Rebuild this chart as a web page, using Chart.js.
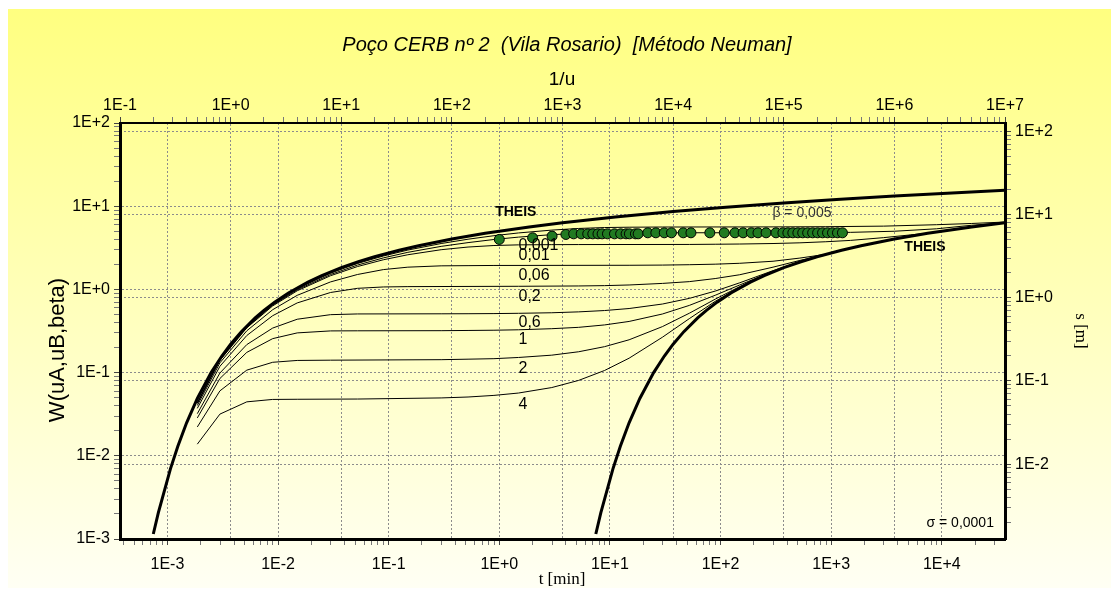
<!DOCTYPE html>
<html>
<head>
<meta charset="utf-8">
<script src="https://cdn.jsdelivr.net/npm/chart.js@4.4.0/dist/chart.umd.min.js"></script>
<style>
  html, body { margin: 0; padding: 0; background: #fff; }
</style>
</head>
<body>
<canvas id="neumanChart" width="1120" height="592"></canvas>
<script>
// ---- axis ranges ----
const invUMin = 0.1, invUMax = 1e7;          // top axis 1/u
const wMin = 1e-3, wMax = 1e2;               // left axis W(uA,uB,beta)
const tMin = 3.727e-4, tMax = 3.727e4;       // bottom axis t [min]
const sMin = 1.259e-3, sMax = 125.9;         // right axis s [m]

// ---- tick labels ----
const invULabels = ['1E-1', '1E+0', '1E+1', '1E+2', '1E+3', '1E+4', '1E+5', '1E+6', '1E+7'];
const wLabels = ['1E-3', '1E-2', '1E-1', '1E+0', '1E+1', '1E+2'];
const tLabels = ['1E-3', '1E-2', '1E-1', '1E+0', '1E+1', '1E+2', '1E+3', '1E+4'];
const sLabels = ['1E-2', '1E-1', '1E+0', '1E+1', '1E+2'];

// ---- Theis curve, type A (x = 1/uA) ----
const theisAX = [0.2, 0.2222, 0.2857, 0.3333, 0.4, 0.5, 0.6667, 0.8333, 1, 1.25, 1.667, 2, 2.5, 3.333, 5, 6.667, 10, 14.29, 20, 33.33, 50, 100, 200, 500, 1000, 3000, 1e4, 3e4, 1e5, 3e5, 1e6, 3e6, 1e7];
const theisAW = [1.148e-3, 2.073e-3, 6.97e-3, 1.305e-2, 2.491e-2, 4.89e-2, 0.1, 0.1584, 0.2194, 0.3106, 0.4544, 0.5598, 0.7024, 0.9057, 1.2227, 1.4645, 1.8229, 2.1508, 2.4679, 2.9591, 3.3547, 4.0379, 4.7261, 5.6394, 6.3315, 7.43, 8.633, 9.733, 10.936, 12.036, 13.238, 14.338, 15.541];

// ---- Theis curve, type B (plotted on 1/uA, sigma = 0,0001) ----
const theisBX = [2000, 2222, 2857, 3333, 4000, 5000, 6667, 8333, 1e4, 12500, 16670, 2e4, 25000, 33330, 5e4, 66670, 1e5, 142900, 2e5, 333300, 5e5, 1e6, 2e6, 5e6, 1e7];
const theisBW = [1.148e-3, 2.073e-3, 6.97e-3, 1.305e-2, 2.491e-2, 4.89e-2, 0.1, 0.1584, 0.2194, 0.3106, 0.4544, 0.5598, 0.7024, 0.9057, 1.2227, 1.4645, 1.8229, 2.1508, 2.4679, 2.9591, 3.3547, 4.0379, 4.7261, 5.6394, 6.3315];

// ---- Neuman curves, one per beta ----
const beta0001X = [0.5, 0.8, 1.4, 2.4, 4, 8, 14, 24, 40, 80, 140, 240, 400, 800, 1400, 2400, 4000, 8000, 8e4, 2.4e5, 8e5, 2.4e6, 5e6, 1e7];
const beta0001W = [0.0438, 0.145, 0.358, 0.662, 1.02, 1.57, 2.05, 2.52, 2.97, 3.56, 4.01, 4.42, 4.77, 5.16, 5.4, 5.54, 5.59, 5.62, 5.64, 5.67, 5.76, 5.99, 6.2, 6.45];
const beta0005X = [0.5, 0.8, 1.4, 2.4, 4, 8, 14, 24, 40, 80, 140, 240, 400, 800, 1400, 2400, 4000, 1e5, 4e5, 1e6, 2.4e6, 5e6, 1e7];
const beta0005W = [0.0431, 0.142, 0.351, 0.647, 0.99, 1.51, 1.96, 2.39, 2.79, 3.29, 3.65, 3.98, 4.25, 4.55, 4.7, 4.77, 4.79, 4.8, 4.85, 5.0, 5.35, 5.9, 6.35];
const beta001X = [0.5, 0.8, 1.4, 2.4, 4, 8, 14, 24, 40, 80, 140, 240, 400, 800, 1400, 14000, 24000, 40000, 80000, 140000, 240000, 400000, 800000, 1400000, 2000000];
const beta001W = [0.0425, 0.14, 0.345, 0.633, 0.963, 1.46, 1.88, 2.27, 2.61, 3.0, 3.23, 3.37, 3.43, 3.45, 3.46, 3.47, 3.49, 3.51, 3.56, 3.63, 3.74, 3.88, 4.19, 4.52, 4.73];
const beta006X = [0.5, 0.8, 1.4, 2.4, 4, 8, 14, 24, 40, 80, 140, 240, 4000, 8000, 14000, 24000, 40000, 80000, 140000, 240000, 300000];
const beta006W = [0.0403, 0.131, 0.318, 0.57, 0.849, 1.23, 1.51, 1.73, 1.85, 1.92, 1.93, 1.94, 1.95, 1.96, 1.98, 2.01, 2.06, 2.18, 2.38, 2.64, 2.85];
const beta02X = [0.5, 0.8, 1.4, 2.4, 4, 8, 14, 24, 40, 400, 1400, 2400, 4000, 8000, 14000, 24000, 40000, 80000, 140000, 200000];
const beta02W = [0.0372, 0.119, 0.279, 0.483, 0.688, 0.918, 1.03, 1.07, 1.08, 1.09, 1.1, 1.11, 1.13, 1.18, 1.24, 1.35, 1.5, 1.85, 2.23, 2.47];
const beta06X = [0.5, 0.8, 1.4, 2.4, 4, 8, 14, 80, 140, 240, 400, 800, 1400, 2400, 4000, 8000, 14000, 24000, 40000, 80000, 140000];
const beta06W = [0.0321, 0.0988, 0.217, 0.343, 0.438, 0.497, 0.507, 0.509, 0.51, 0.512, 0.516, 0.524, 0.537, 0.557, 0.589, 0.667, 0.78, 0.954, 1.2, 1.68, 2.15];
const beta1X = [0.5, 0.8, 1.4, 2.4, 4, 8, 14, 80, 140, 240, 400, 800, 1400, 2400, 4000, 8000, 14000, 24000, 40000, 80000];
const beta1W = [0.0285, 0.0849, 0.175, 0.256, 0.3, 0.317, 0.318, 0.319, 0.321, 0.323, 0.327, 0.337, 0.35, 0.374, 0.412, 0.506, 0.642, 0.85, 1.13, 1.65];
const beta2X = [0.5, 0.8, 1.4, 2.4, 4, 8, 80, 140, 240, 400, 800, 1400, 2400, 4000, 8000, 14000, 24000, 40000, 80000];
const beta2W = [0.0222, 0.0603, 0.107, 0.133, 0.14, 0.141, 0.143, 0.145, 0.147, 0.152, 0.162, 0.178, 0.205, 0.248, 0.357, 0.517, 0.763, 1.08, 1.63];
const beta4X = [0.5, 0.8, 1.4, 2.4, 4, 14, 80, 140, 240, 400, 800, 1400, 2400, 4000, 8000, 14000, 24000, 40000, 80000];
const beta4W = [0.0138, 0.0317, 0.0445, 0.0476, 0.0478, 0.0481, 0.0496, 0.0509, 0.0532, 0.0568, 0.0661, 0.0806, 0.106, 0.149, 0.266, 0.445, 0.718, 1.06, 1.63];

// ---- field data: time [min] and drawdown [m] ----
const obsTime = [1, 2, 3, 4, 4.7, 5.5, 6.3, 7, 7.8, 8.5, 9.5, 11, 12.5, 14, 15, 17, 18, 22, 26, 31, 36, 46, 54, 80, 108, 135, 160, 190, 218, 258, 317, 366, 406, 450, 500, 553, 613, 680, 754, 836, 927, 1028, 1140, 1264];
const obsDrawdown = [5.02, 5.25, 5.5, 5.76, 5.86, 5.86, 5.86, 5.86, 5.86, 5.86, 5.86, 5.86, 5.86, 5.86, 5.86, 5.86, 5.86, 6.03, 6.03, 6.03, 6.03, 6.03, 6.03, 6.03, 6.03, 6.03, 6.03, 6.03, 6.03, 6.03, 6.03, 6.03, 6.03, 6.03, 6.03, 6.03, 6.03, 6.03, 6.03, 6.03, 6.03, 6.03, 6.03, 6.03];

// ---- curve labels (position in 1/u and W) ----
const betaLabels = ['0,001', '0,01', '0,06', '0,2', '0,6', '1', '2', '4'];
const betaLabelW = [3.4, 2.52, 1.45, 0.81, 0.397, 0.25, 0.111, 0.041];

const SANS = '"Liberation Sans", Arial, Helvetica, sans-serif';
const SERIF = '"Liberation Serif", "Times New Roman", serif';

function pairs(xs, ys) {
  return xs.map((x, i) => ({ x: x, y: ys[i] }));
}
function isDecade(v) {
  const e = Math.log10(v);
  return Math.abs(e - Math.round(e)) < 1e-6;
}
function logTickValues(min, max) {
  const out = [];
  for (let e = Math.floor(Math.log10(min)); e <= Math.ceil(Math.log10(max)); e++) {
    for (let k = 1; k < 10; k++) {
      const v = k * Math.pow(10, e);
      if (v >= min * 0.9999 && v <= max * 1.0001) out.push(v);
    }
  }
  return out;
}
function labelFor(labels) {
  return function (value) {
    const hit = labels.find(l => Math.abs(Math.log10(Number(l)) - Math.log10(value)) < 1e-6);
    return hit || '';
  };
}

function logAxis(position, min, max, labels, size, tickPad) {
  return {
    type: 'logarithmic',
    position: position,
    min: min,
    max: max,
    afterBuildTicks: scale => {
      scale.ticks = logTickValues(min, max).map(v => ({ value: v }));
    },
    afterFit: scale => {
      if (position === 'top' || position === 'bottom') scale.height = size;
      else scale.width = size;
    },
    ticks: {
      autoSkip: false,
      maxRotation: 0,
      minRotation: 0,
      padding: tickPad,
      color: '#000',
      font: { family: SANS, size: 16 },
      callback: labelFor(labels)
    },
    grid: {
      drawOnChartArea: true,
      drawTicks: true,
      tickLength: 6,
      lineWidth: 1,
      color: ctx => (ctx.tick && isDecade(ctx.tick.value)) ? '#8c8c8c' : 'rgba(0,0,0,0)',
      tickColor: ctx => (ctx.tick && isDecade(ctx.tick.value)) ? '#444' : '#777',
      tickWidth: 1
    },
    border: {
      display: true,
      color: '#000',
      width: position === 'top' ? 2 : 3,
      dash: [2, 2]
    }
  };
}

const curve = (label, xs, ys, width) => ({
  label: label,
  data: pairs(xs, ys),
  showLine: true,
  pointRadius: 0,
  borderColor: '#000',
  backgroundColor: '#000',
  borderWidth: width,
  xAxisID: 'x2',
  yAxisID: 'y',
  clip: 0
});

// backgrounds, annotations and axis titles
const paperPlugin = {
  id: 'paper',
  beforeDraw(chart) {
    const { ctx, width, height } = chart;
    ctx.save();
    ctx.fillStyle = '#ffffff';
    ctx.fillRect(0, 0, width, height);
    const g = ctx.createLinearGradient(0, 9, 0, 588);
    g.addColorStop(0, '#ffff80');
    g.addColorStop(1, '#fffff4');
    ctx.fillStyle = g;
    ctx.fillRect(8, 9, 1103, 579);
    ctx.restore();
  },
  afterDatasetsDraw(chart) {
    const { ctx } = chart;
    const xs = chart.scales.x2, ys = chart.scales.y;
    ctx.save();
    ctx.fillStyle = '#000';
    ctx.textBaseline = 'middle';
    ctx.textAlign = 'left';
    ctx.font = '16px ' + SANS;
    betaLabels.forEach((txt, i) => {
      ctx.fillText(txt, xs.getPixelForValue(400), ys.getPixelForValue(betaLabelW[i]));
    });
    ctx.font = 'bold 14px ' + SANS;
    ctx.textAlign = 'center';
    ctx.fillText('THEIS', xs.getPixelForValue(378), ys.getPixelForValue(8.48));
    ctx.fillText('THEIS', xs.getPixelForValue(1.89e6), ys.getPixelForValue(3.22));
    ctx.font = '14px ' + SANS;
    ctx.fillStyle = '#333';
    ctx.fillText('\u03b2 = 0,005', xs.getPixelForValue(1.46e5), ys.getPixelForValue(8.24));
    ctx.fillStyle = '#000';
    ctx.textAlign = 'right';
    ctx.fillText('\u03c3 = 0,0001', xs.getPixelForValue(7.94e6), ys.getPixelForValue(1.53e-3));
    ctx.restore();
  },
  afterDraw(chart) {
    const { ctx } = chart;
    ctx.save();
    ctx.fillStyle = '#000';
    ctx.textAlign = 'center';
    ctx.textBaseline = 'middle';
    ctx.font = 'italic 20px ' + SANS;
    ctx.fillText('Poço CERB nº 2  (Vila Rosario)  [Método Neuman]', 567, 45);
    ctx.font = '19px ' + SANS;
    ctx.fillText('1/u', 562, 80);
    ctx.font = '17px ' + SERIF;
    ctx.fillText('t [min]', 562, 580);
    ctx.save();
    ctx.translate(58, 350);
    ctx.rotate(-Math.PI / 2);
    ctx.font = '22px ' + SANS;
    ctx.fillText('W(uA,uB,beta)', 0, 0);
    ctx.restore();
    ctx.save();
    ctx.translate(1080, 331);
    ctx.rotate(Math.PI / 2);
    ctx.font = '17px ' + SERIF;
    ctx.fillText('s [m]', 0, 0);
    ctx.restore();
    ctx.restore();
  }
};

new Chart(document.getElementById('neumanChart'), {
  type: 'scatter',
  data: {
    datasets: [
      {
        label: 'Poço CERB nº 2',
        data: pairs(obsTime, obsDrawdown),
        xAxisID: 'x',
        yAxisID: 'y2',
        showLine: false,
        pointRadius: 5,
        pointBackgroundColor: '#217a21',
        pointBorderColor: '#000',
        pointBorderWidth: 1
      },
      curve('Theis A', theisAX, theisAW, 3),
      curve('Theis B', theisBX, theisBW, 3),
      curve('0,001', beta0001X, beta0001W, 1),
      curve('0,005', beta0005X, beta0005W, 1),
      curve('0,01', beta001X, beta001W, 1),
      curve('0,06', beta006X, beta006W, 1),
      curve('0,2', beta02X, beta02W, 1),
      curve('0,6', beta06X, beta06W, 1),
      curve('1', beta1X, beta1W, 1),
      curve('2', beta2X, beta2W, 1),
      curve('4', beta4X, beta4W, 1)
    ]
  },
  options: {
    responsive: false,
    animation: false,
    layout: { padding: 0 },
    plugins: {
      legend: { display: false },
      tooltip: { enabled: false },
      title: { display: false }
    },
    scales: {
      x: logAxis('bottom', tMin, tMax, tLabels, 53, 10),
      x2: logAxis('top', invUMin, invUMax, invULabels, 123, 2),
      y: logAxis('left', wMin, wMax, wLabels, 120, 4),
      y2: logAxis('right', sMin, sMax, sLabels, 115, 4)
    }
  },
  plugins: [paperPlugin]
});
</script>
</body>
</html>
